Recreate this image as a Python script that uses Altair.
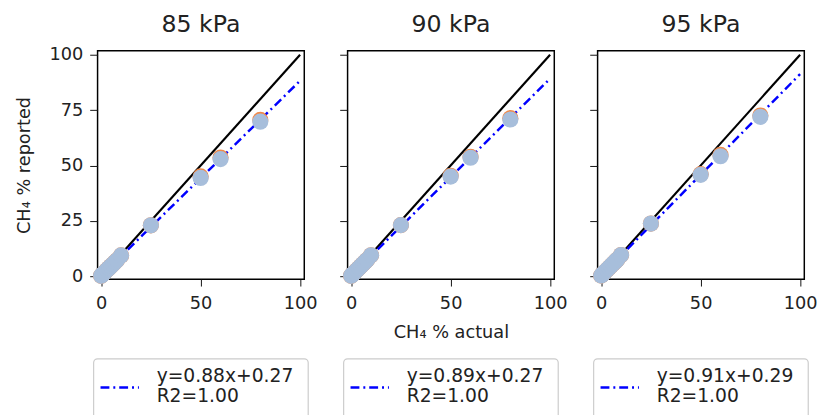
import altair as alt
import pandas as pd

# ---- data ----
panels = ["85 kPa", "90 kPa", "95 kPa"]
actual = [0, 0.5, 1, 2, 3, 4, 5, 6, 7, 8, 10, 25, 50, 60, 80]
reported_blue = {
    "85 kPa": [0.2, 0.7, 1.1, 2.0, 2.9, 3.7, 4.6, 5.5, 6.4, 7.3, 9.4, 23.0, 44.4, 52.9, 69.8],
    "90 kPa": [0.2, 0.7, 1.1, 2.0, 2.9, 3.8, 4.7, 5.6, 6.5, 7.4, 9.5, 23.1, 45.0, 53.5, 70.8],
    "95 kPa": [0.3, 0.8, 1.2, 2.1, 3.0, 3.9, 4.8, 5.7, 6.6, 7.5, 9.6, 23.8, 45.8, 54.2, 72.0],
}
reported_orange = {
    "85 kPa": [0.2, 0.7, 1.1, 2.0, 2.9, 3.7, 4.6, 5.5, 6.4, 7.3, 9.4, 23.0, 45.1, 53.6, 70.6],
    "90 kPa": [0.2, 0.7, 1.1, 2.0, 2.9, 3.8, 4.7, 5.6, 6.5, 7.4, 9.5, 23.1, 45.4, 53.9, 71.4],
    "95 kPa": [0.3, 0.8, 1.2, 2.1, 3.0, 3.9, 4.8, 5.7, 6.6, 7.5, 9.6, 23.8, 46.1, 54.8, 72.6],
}
slopes = [0.88, 0.89, 0.91]
intercepts = [0.27, 0.27, 0.29]
r2 = [1.00, 1.00, 1.00]
line_x = [0, 100]
x_ticks = [0, 50, 100]
y_ticks = [0, 25, 50, 75, 100]

FONT = "DejaVu Sans"
W, H = 210, 232
XDOM = [-1.8, 102.1]
YDOM = [-1.3, 101.8]


def panel(i, name):
    pts = pd.DataFrame({
        "actual": actual * 2,
        "reported": reported_orange[name] + reported_blue[name],
        "series": ["orange"] * len(actual) + ["blue"] * len(actual),
        "order": [0] * len(actual) + [1] * len(actual),
    })
    ident = pd.DataFrame({"x": line_x, "y": line_x})
    fit = pd.DataFrame({"x": line_x, "y": [slopes[i] * v + intercepts[i] for v in line_x]})
    label = pd.DataFrame({"l1": [f"y={slopes[i]:.2f}x+{intercepts[i]:.2f}"],
                          "l2": [f"R2={r2[i]:.2f}"]})

    xaxis = alt.Axis(
        values=x_ticks, title="CH₄ % actual" if i == 1 else None,
        grid=False, domain=False, tickSize=7, tickColor="#111", labelPadding=9,
        labelFontSize=18, labelFont=FONT, labelColor="#222",
        titleFontSize=18, titleFont=FONT, titleFontWeight="normal", titleColor="#222",
        titlePadding=11,
    )
    yaxis = alt.Axis(
        values=y_ticks, title="CH₄ % reported" if i == 0 else None,
        labelOpacity=1 if i == 0 else 0, grid=False, domain=False, tickSize=8,
        tickColor="#111", labelPadding=7, labelFontSize=18, labelFont=FONT,
        labelColor="#222", titleFontSize=18, titleFont=FONT,
        titleFontWeight="normal", titleColor="#222", titlePadding=16,
    )
    xs = alt.Scale(domain=XDOM, nice=False, zero=False)
    ys = alt.Scale(domain=YDOM, nice=False, zero=False)

    idl = alt.Chart(ident).mark_line(color="black", strokeWidth=2.2).encode(
        x=alt.X("x:Q", scale=xs, axis=xaxis), y=alt.Y("y:Q", scale=ys, axis=yaxis))
    fitl = alt.Chart(fit).mark_line(color="#0000ff", strokeWidth=2.5, strokeDash=[9, 4, 2, 4]).encode(
        x=alt.X("x:Q", scale=xs), y=alt.Y("y:Q", scale=ys))
    pt = alt.Chart(pts).mark_circle(size=270, opacity=1).encode(
        x=alt.X("actual:Q", scale=xs), y=alt.Y("reported:Q", scale=ys),
        color=alt.Color("series:N", scale=alt.Scale(domain=["orange", "blue"],
                                                    range=["#f0894a", "#a7bedb"]), legend=None),
        order=alt.Order("order:Q"))

    box = alt.Chart(label).mark_rect(fill="white", stroke="#cccccc", strokeWidth=1.2,
                                     cornerRadius=4).encode(
        x=alt.value(-4), x2=alt.value(214), y=alt.value(313), y2=alt.value(390))
    sample = alt.Chart(label).mark_rule(color="#0000ff", strokeWidth=2.5,
                                        strokeDash=[9, 4, 2, 4]).encode(
        x=alt.value(3), x2=alt.value(42), y=alt.value(342))
    t1 = alt.Chart(label).mark_text(align="left", baseline="alphabetic", font=FONT,
                                    fontSize=19, color="#222").encode(
        text="l1:N", x=alt.value(60), y=alt.value(336))
    t2 = alt.Chart(label).mark_text(align="left", baseline="alphabetic", font=FONT,
                                    fontSize=19, color="#222").encode(
        text="l2:N", x=alt.value(60), y=alt.value(357))

    return alt.layer(idl, fitl, pt, box, sample, t1, t2).properties(
        width=W, height=H,
        title=alt.TitleParams(name, font=FONT, fontSize=24, fontWeight="normal",
                              color="#222", offset=9, frame="group"),
    )


chart = alt.hconcat(*[panel(i, n) for i, n in enumerate(panels)], spacing=44,
                    bounds="flush").configure_view(
    stroke="black", strokeWidth=1.5
).properties(padding={"left": 6, "top": 1, "right": 5, "bottom": 5})

chart.save("out.html", embed_options={"renderer": "svg", "actions": False})
